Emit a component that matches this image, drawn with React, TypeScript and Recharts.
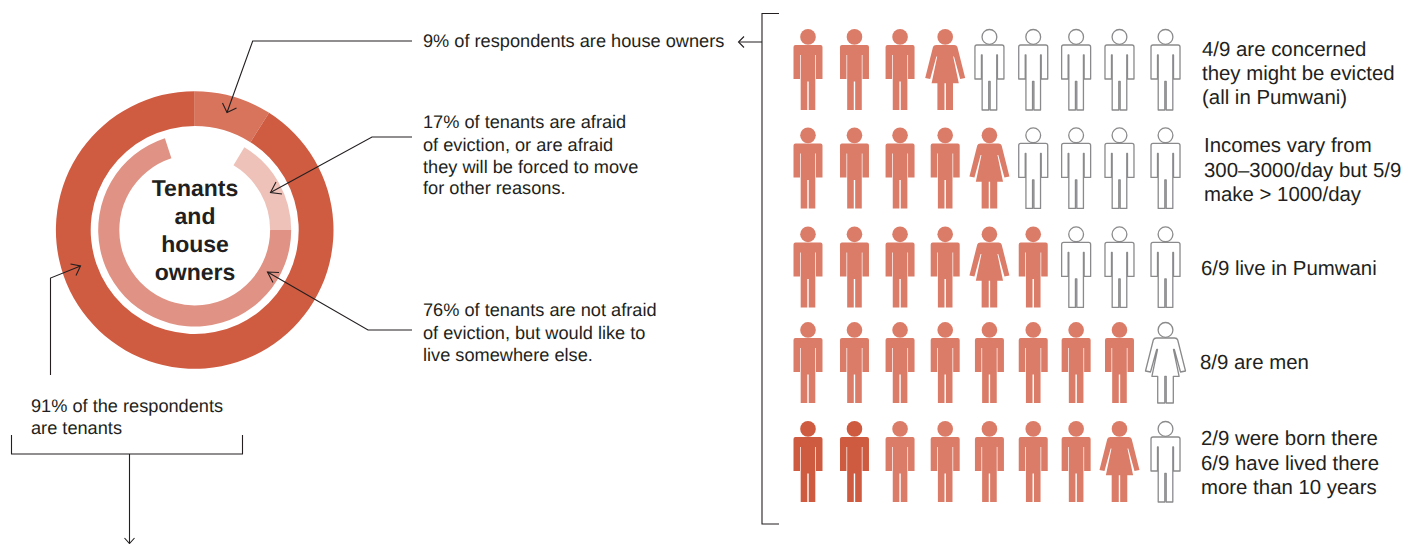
import React from 'react';
import { PieChart, Pie, Cell, ScatterChart, Scatter, XAxis, YAxis } from 'recharts';

// Donut: share of respondents
const outerNames = ['House owners', 'Tenants'];
const outerValues = [9, 91];
// Inner ring as drawn in the picture (with an unpainted gap at both ends)
const innerNames = ['gapA', 'Afraid of eviction', 'Not afraid', 'gapB'];
const innerValues = [8.6, 16.4, 70, 5];

const centreLines = ['Tenants', 'and', 'house', 'owners'];

// Pictogram: one string per row, m = man, w = woman
const rowFigures = ['mmmwmmmmm', 'mmmmwmmmm', 'mmmmwmmmm', 'mmmmmmmmw', 'mmmmmmmwm'];
const rowHighlighted = [0, 0, 0, 0, 2];
const rowCounted = [4, 5, 6, 8, 8];
// Slot positions, in units of one column / one row
const columnSlots = [0, 1.04, 2.06, 3.07, 4.06, 5.04, 6, 6.97, 8];
const rowSlots = [0, 1.005, 2.015, 2.99, 4];

const dataPeople = rowFigures.flatMap((figures, r) =>
  figures.split('').map((g, c) => ({
    col: columnSlots[c],
    row: rowSlots[r],
    gender: g,
    state: c < rowHighlighted[r] ? 'strong' : c < rowCounted[r] ? 'counted' : 'empty',
  }))
);

const MAN =
  'M-14.5,-22.5 Q-14.5,-24.5 -12.5,-24.5 H12.5 Q14.5,-24.5 14.5,-22.5 V9.5 H8 V-14.5 H7.3 V40.5 H0.7 V12 H-0.7 V40.5 H-7.3 V-14.5 H-8 V9.5 H-14.5 Z';
const WOMAN =
  'M-9,-24.5 H9 Q11.5,-24.5 12.2,-22.5 L20,8.5 L15,9.5 L8.8,-13 L8,-13 L13.6,13.8 H7.8 V40.5 H0.7 V13.8 H-0.7 V40.5 H-7.8 V13.8 H-13.6 L-8,-13 L-8.8,-13 L-15,9.5 L-20,8.5 L-12.2,-22.5 Q-11.5,-24.5 -9,-24.5 Z';

const palette: Record<string, string> = { strong: '#CE5B40', counted: '#DB7C68' };

function Person(props: any) {
  const { cx, cy, payload } = props;
  const empty = payload.state === 'empty';
  const fill = empty ? '#FFFFFF' : palette[payload.state];
  const stroke = empty ? '#8A8A8C' : 'none';
  const path = payload.gender === 'w' ? WOMAN : MAN;
  return (
    <g transform={`translate(${cx},${cy})`}>
      <circle cx={0} cy={-32.6} r={empty ? 7.4 : 7.8} fill={fill} stroke={stroke} strokeWidth={1.3} />
      <path d={path} fill={fill} stroke={stroke} strokeWidth={1.3} strokeLinejoin="round" />
    </g>
  );
}

const FONT = '"Liberation Sans", Arial, sans-serif';
const INK = '#231F20';

type Note = { x: number; y: number; t: string };
const midNotes: Note[] = [
  { x: 423, y: 47, t: '9% of respondents are house owners' },
  { x: 423, y: 128, t: '17% of tenants are afraid' },
  { x: 423, y: 151, t: 'of eviction, or are afraid' },
  { x: 423, y: 173, t: 'they will be forced to move' },
  { x: 423, y: 194, t: 'for other reasons.' },
  { x: 423, y: 316, t: '76% of tenants are not afraid' },
  { x: 423, y: 339, t: 'of eviction, but would like to' },
  { x: 423, y: 361, t: 'live somewhere else.' },
  { x: 31, y: 412, t: '91% of the respondents' },
  { x: 31, y: 434, t: 'are tenants' },
];
const sideNotes: Note[] = [
  { x: 1202, y: 56, t: '4/9 are concerned' },
  { x: 1202, y: 80, t: 'they might be evicted' },
  { x: 1202, y: 104, t: '(all in Pumwani)' },
  { x: 1204, y: 152, t: 'Incomes vary from' },
  { x: 1204, y: 177, t: '300\u20133000/day but 5/9' },
  { x: 1204, y: 201, t: 'make > 1000/day' },
  { x: 1201, y: 275, t: '6/9 live in Pumwani' },
  { x: 1200, y: 369, t: '8/9 are men' },
  { x: 1201, y: 445, t: '2/9 were born there' },
  { x: 1201, y: 470, t: '6/9 have lived there' },
  { x: 1201, y: 494, t: 'more than 10 years' },
];

const Arrow = ({ d, head }: { d: string; head: string }) => (
  <g fill="none" stroke={INK} strokeWidth={1.1}>
    <path d={d} />
    <path d={head} />
  </g>
);

export default function App() {
  return (
    <div style={{ position: 'absolute', left: 0, top: 0, width: 1402, height: 544, background: '#fff', overflow: 'hidden' }}>
      <div style={{ position: 'absolute', left: 45, top: 80 }}>
        <PieChart width={300} height={300} margin={{ top: 0, right: 0, bottom: 0, left: 0 }}>
          <Pie
            data={outerValues.map((value, i) => ({ name: outerNames[i], value }))}
            dataKey="value"
            cx={149.7}
            cy={150}
            innerRadius={104}
            outerRadius={138.8}
            startAngle={90}
            endAngle={-270}
            stroke="none"
            isAnimationActive={false}
          >
            <Cell fill="#D8735C" />
            <Cell fill="#CF5B41" />
          </Pie>
          <Pie
            data={innerValues.map((value, i) => ({ name: innerNames[i], value }))}
            dataKey="value"
            cx={149.7}
            cy={150}
            innerRadius={75.4}
            outerRadius={96.5}
            startAngle={90}
            endAngle={-270}
            stroke="none"
            isAnimationActive={false}
          >
            <Cell fill="none" />
            <Cell fill="#EEC2B9" />
            <Cell fill="#E09284" />
            <Cell fill="none" />
          </Pie>
        </PieChart>
      </div>

      <div style={{ position: 'absolute', left: 780, top: 0 }}>
        <ScatterChart width={410} height={544} margin={{ top: 0, right: 0, bottom: 0, left: 0 }}>
          <XAxis type="number" dataKey="col" domain={[-0.6265, 8.548]} hide />
          <YAxis type="number" dataKey="row" domain={[-0.709, 4.842]} reversed hide />
          <Scatter data={dataPeople} shape={Person} isAnimationActive={false} />
        </ScatterChart>
      </div>

      <svg width={1402} height={544} style={{ position: 'absolute', left: 0, top: 0, pointerEvents: 'none', textRendering: 'geometricPrecision' }}>
        {midNotes.map((n) => (
          <text key={n.t} x={n.x} y={n.y} fontFamily={FONT} fontSize={18.2} fill={INK}>
            {n.t}
          </text>
        ))}
        {sideNotes.map((n) => (
          <text key={n.t} x={n.x} y={n.y} fontFamily={FONT} fontSize={20.4} fill={INK}>
            {n.t}
          </text>
        ))}
        {centreLines.map((t, i) => (
          <text key={t} x={195} y={195.5 + i * 28.2} textAnchor="middle" fontFamily={FONT} fontSize={23} fontWeight={700} fill={INK}>
            {t}
          </text>
        ))}
        <Arrow d="M412,41 H252.7 L227,112.5" head="M222.5,103 L227,112.5 L236.5,108" />
        <Arrow d="M412,137 H372 L270.5,192.5" head="M276,182 L270.5,192.5 L282,194" />
        <Arrow d="M412,330 H368 L267.5,272" head="M279,272.5 L267.5,272 L273,282.5" />
        <Arrow d="M50.5,375 V278 L80.5,266" head="M70.5,264 L80.5,266 L76,275.5" />
        <Arrow d="M11.5,435 V454 H242.5 V435 M129.5,454 V543" head="M124.5,538 L129.5,543.5 L134.5,538" />
        <Arrow d="M779,13.5 H762 V524 H779 M762,42 H739" head="M744,36.5 L738.5,42 L744,47.5" />
      </svg>
    </div>
  );
}
